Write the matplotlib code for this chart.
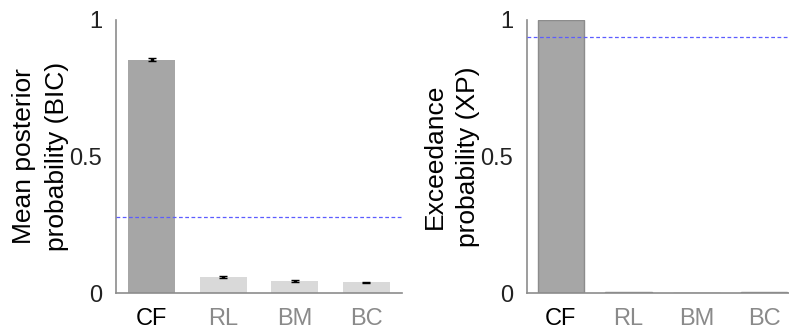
import matplotlib
matplotlib.use("Agg")
import matplotlib.pyplot as plt

# --- Data ---
models = ["CF", "RL", "BM", "BC"]
bic_mean = [0.855, 0.058, 0.045, 0.040]
bic_err = [0.005, 0.004, 0.003, 0.002]
bic_chance = 0.277
xp_values = [1.0, 0.004, 0.0, 0.004]
xp_line = 0.939

plt.rcParams['font.family'] = ['Liberation Sans', 'DejaVu Sans']

DARK = '#a6a6a6'
LIGHT = '#d9d9d9'
SPINE = '#8c8c8c'
TEXT_GRAY = '#8a8a8a'
BLUE = '#5c5cff'

fig = plt.figure(figsize=(7.89, 3.31), dpi=100, facecolor='white')
ax1 = fig.add_axes([116 / 789, 38 / 331, 286 / 789, 273 / 331])
ax2 = fig.add_axes([527 / 789, 38 / 331, 271 / 789, 273 / 331])


def style_axis(ax, ylabel):
    ax.set_xlim(0.5, 4.5)
    ax.set_ylim(0, 1)
    for s in ['top', 'right']:
        ax.spines[s].set_visible(False)
    for s in ['left', 'bottom']:
        ax.spines[s].set_color(SPINE)
        ax.spines[s].set_linewidth(1.2)
    ax.set_yticks([0, 0.5, 1])
    ax.set_yticklabels(['0', '0.5', '1'])
    ax.set_xticks(range(1, 5))
    ax.set_xticklabels(models)
    ax.tick_params(axis='both', length=0, labelsize=17, colors='#222222')
    ax.tick_params(axis='y', pad=10)
    ax.tick_params(axis='x', pad=11)
    for i, lab in enumerate(ax.get_xticklabels()):
        lab.set_color('black' if i == 0 else TEXT_GRAY)
    ax.set_ylabel(ylabel, fontsize=19, linespacing=1.5, labelpad=0)


x = range(1, 5)
colors = [DARK, LIGHT, LIGHT, LIGHT]

# Left panel: mean posterior probability
ax1.bar(x, bic_mean, width=0.66, color=colors, edgecolor='none', zorder=2)
ax1.errorbar(x, bic_mean, yerr=bic_err, fmt='none', ecolor='black',
             elinewidth=2.5, capsize=3, capthick=1, zorder=3)
ax1.axhline(bic_chance, color=BLUE, linestyle='--', linewidth=0.9,
            dashes=(3, 2), zorder=4)
style_axis(ax1, "Mean posterior\nprobability (BIC)")

# Right panel: exceedance probability
ax2.bar(x, xp_values, width=0.69, color=DARK, edgecolor='#8c8c8c',
        linewidth=1.0, zorder=2)
ax2.axhline(xp_line, color=BLUE, linestyle='--', linewidth=0.9,
            dashes=(3, 2), zorder=4)
style_axis(ax2, "Exceedance\nprobability (XP)")

fig.savefig("out.png", dpi=100, facecolor='white')
